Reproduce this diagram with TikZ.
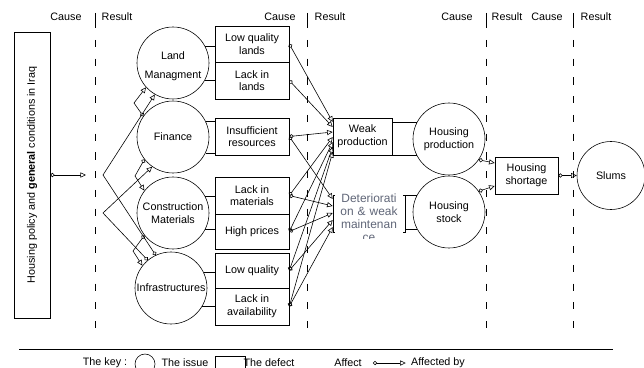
\documentclass[tikz,border=0pt]{standalone}
\usepackage{fontspec}
\setmainfont{Liberation Sans}
\usetikzlibrary{arrows.meta}
\definecolor{detgray}{RGB}{96,102,120}
\tikzset{
	lbl/.style={font=\fontsize{9.2}{10.8}\selectfont},
	issue/.style={lbl, circle, draw, inner sep=0pt, minimum size=2.16cm, align=center},
	defect/.style={lbl, rectangle, draw, inner sep=1pt, minimum width=2.22cm, minimum height=1.1cm, align=center},
	affect/.style={{Circle[open,length=3.6pt,width=3.6pt]}-{Triangle[open,length=4.8pt,width=4.4pt]}},
	column/.style={dash pattern=on 6pt off 10pt}
}

\begin{document}
\begin{tikzpicture}[x=0.03cm,y=-0.03cm,line width=0.5pt]
			%%%%% START %%%%%
			\useasboundingbox (0,0) rectangle (644,368);
			\def\xis{173}
			\def\xdf{252}
			
			% column headers and separators
			\node[lbl] (hc1) at (66,17) {Cause};
			\node[lbl] (hr1) at (117,17) {Result};
			\node[lbl] (hc2) at (280,17) {Cause};
			\node[lbl] (hr2) at (330,17) {Result};
			\node[lbl] (hc3) at (457,17) {Cause};
			\node[lbl] (hr3) at (507,17) {Result};
			\node[lbl] (hc4) at (547,17) {Cause};
			\node[lbl] (hr4) at (596,17) {Result};
			\draw (95,13) -- (95,28);
			\draw[column] (95,40) -- (95,330);
			\draw (307,13) -- (307,28);
			\draw[column] (307,40) -- (307,330);
			\draw (486,13) -- (486,28);
			\draw[column] (486,40) -- (486,330);
			\draw (573,13) -- (573,28);
			\draw[column] (573,40) -- (573,330);
			
			% general conditions
			\node[lbl, draw, rotate=90, minimum width=8.58cm, minimum height=1.08cm] (policy) at (32,175) {Housing policy and \textbf{general} conditions in Iraq};
			\coordinate (policyout) at (86,175);
			\draw[affect] (policy.south) -- (policyout);
			
			% the issues
			\node[issue] (land) at (\xis,63) {\\[1pt]Land\\[5pt]Managment};
			\node[issue] (fin) at (\xis,137) {Finance};
			\node[issue] (con) at (\xis,213) {Construction\\Materials};
			\node[issue] (infra) at (171,288) {Infrastructures};
			
			% the defects
			\node[defect, minimum height=1.08cm] (lql) at (\xdf,44) {Low quality\\lands};
			\node[defect] (lil) at (\xdf,80.5) {Lack in\\lands};
			\node[defect] (ires) at (\xdf,136.5) {Insufficient\\resources};
			\node[defect] (lim) at (\xdf,195.5) {Lack in\\materials};
			\node[defect, minimum height=1.05cm] (hpr) at (\xdf,231.5) {High prices};
			\node[defect, minimum height=1.05cm] (lqu) at (\xdf,270.5) {Low quality};
			\node[defect] (lav) at (\xdf,306.5) {Lack in\\availability};
			
			\draw (land.28) -- (land.28 -| lql.west);
			\draw (land.-28) -- (land.-28 -| lil.west);
			\draw (fin.26) -- (fin.26 -| ires.west);
			\draw (fin.-26) -- (fin.-26 -| ires.west);
			\draw (con.27) -- (con.27 -| lim.west);
			\draw (con.-27) -- (con.-27 -| hpr.west);
			\draw (infra.25) -- (infra.25 -| lqu.west);
			\draw (infra.-30) -- (infra.-30 -| lav.west);
			
			% links between the issues
			\coordinate (fbA) at (103,175);
			\coordinate (fbB) at (103,213);
			\draw[affect] (infra.115) -- (fbA) -- (land.240);
			\draw[affect] (infra.130) -- (fbB) -- (fin.235);
			\draw[affect] (fin.145) -- (134,103) -- (land.222);
			\draw[affect] (fin.218) -- (135,176) -- (con.142);
			\draw[affect] (con.218) -- (133,251) -- (infra.142);
			
			% the results of the defects
			\node[lbl, draw, minimum width=1.77cm, minimum height=1.11cm, align=center] (wp) at (362.5,136.5) {Weak\\production};
			\node[draw, minimum width=2.16cm, minimum height=1.11cm] (det) at (369,213.5) {};
			\begin{scope}
				\clip (330,188) rectangle (410,238.5);
				\node[fill=white, text=detgray, font=\fontsize{10.2}{11.2}\selectfont, align=center, text width=1.98cm, inner xsep=1pt, inner ysep=0pt] (dett) at (369,217.5) {Deteriorati\\on \& weak\\maintenan\\ce};
			\end{scope}
			
			\draw[affect] (lql.east) -- (wp.west |- 0,122);
			\draw[affect] (lil.east) -- (wp.west |- 0,127);
			\draw[affect] (ires.east) -- (wp.west |- 0,132);
			\draw[affect] (lim.east) -- (wp.west |- 0,137);
			\draw[affect] (hpr.east) -- (wp.west |- 0,142);
			\draw[affect] (lqu.east) -- (wp.west |- 0,147);
			\draw[affect] (lav.east) -- (wp.west |- 0,152);
			\draw[affect] (ires.east) -- (det.west |- 0,199);
			\draw[affect] (lim.east) -- (det.west |- 0,206);
			\draw[affect] (hpr.east) -- (det.west |- 0,213);
			\draw[affect] (lqu.east) -- (det.west |- 0,220);
			\draw[affect] (lav.east) -- (det.west |- 0,227);
			
			% housing
			\node[issue] (hp) at (449,139) {Housing\\production};
			\node[issue] (hst) at (449,212) {Housing\\stock};
			\draw (hp.153) -- (hp.153 -| wp.east);
			\draw (hp.207) -- (hp.207 -| wp.east);
			\draw (hst.152) -- (hst.152 -| det.east);
			\draw (hst.209) -- (hst.209 -| det.east);
			
			\node[lbl, draw, minimum width=1.89cm, minimum height=1.11cm, align=center] (hs) at (526.5,175.5) {Housing\\shortage};
			\draw[affect] (hp.-35) -- (hs.west |- 0,163);
			\draw[affect] (hst.35) -- (hs.west |- 0,186);
			
			\node[lbl, circle, draw, inner sep=0pt, minimum size=2.04cm] (slums) at (611,175.5) {Slums};
			\draw[affect] (hs.east) -- (slums.west);
			
			% the key
			\draw (19,349) -- (613,349);
			\node[lbl] (keyt) at (105,363) {The key :};
			\node[circle, draw, inner sep=0pt, minimum size=0.6cm] (keyis) at (145,364) {};
			\node[lbl] (keyist) at (185,363) {The issue};
			\node[draw, minimum width=0.9cm, minimum height=0.6cm] (keydf) at (230,366) {};
			\node[lbl] (keydft) at (269,363) {The defect};
			\node[lbl] (keyaf) at (348,363) {Affect};
			\node[lbl] (keyafb) at (438,363) {Affected by};
			\draw[affect] ([xshift=6pt]keyaf.east) -- ([xshift=-1pt]keyafb.west);
			%%%%% END %%%%%
\end{tikzpicture}
\end{document}
